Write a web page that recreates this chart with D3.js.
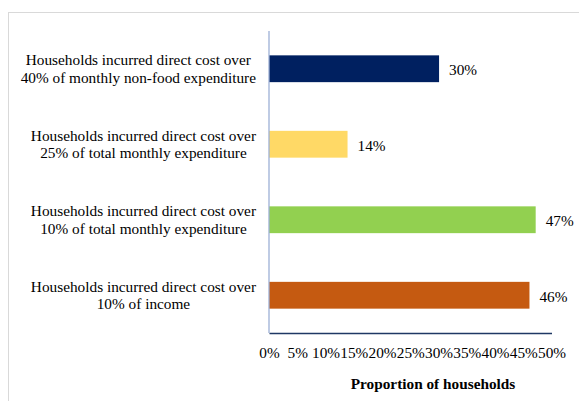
<!DOCTYPE html>
<html>
<head>
<meta charset="utf-8">
<script src="https://cdn.jsdelivr.net/npm/d3@7"></script>
<style>
  body { margin: 0; background: #fff; }
  text { font-family: "Liberation Serif", "Times New Roman", serif; fill: #000; }
</style>
</head>
<body>
<div id="chart"></div>
<script>
// data
const categories = [
    ["Households incurred direct cost over", "40% of monthly non-food expenditure"],
    ["Households incurred direct cost over", "25% of total monthly expenditure"],
    ["Households incurred direct cost over", "10% of total monthly expenditure"],
    ["Households incurred direct cost over", "10% of income"]
];
const values = [30.1, 13.9, 47.2, 46.1];
const barColors = ["#002060", "#FFD966", "#92D050", "#C55A11"];
const xTicks = [0, 5, 10, 15, 20, 25, 30, 35, 40, 45, 50];
const xTitle = "Proportion of households";

const W = 579, H = 401;
const fs = "15.3px";
const margin = { left: 269, right: 27, top: 31, bottom: 68 };
const width = 551.5 - margin.left;
const height = 333 - margin.top;

const svg = d3.select("#chart").append("svg")
    .attr("width", W)
    .attr("height", H);

// outer frame
svg.append("rect")
    .attr("x", 8.5).attr("y", 12.5)
    .attr("width", W + 10).attr("height", H + 10)
    .attr("fill", "none")
    .attr("stroke", "#d9d9d9");

const g = svg.append("g")
    .attr("transform", `translate(${margin.left},${margin.top})`);

// Scales
const x = d3.scaleLinear().domain([0, 50]).range([0, width]);
const y = d3.scaleBand().domain(d3.range(categories.length)).range([0, height]).paddingInner(0.645).paddingOuter(0.3225);

// Bars
g.selectAll("rect.bar").data(values).enter()
    .append("rect")
    .attr("class", "bar")
    .attr("x", 0)
    .attr("y", (d, i) => y(i))
    .attr("width", d => x(d))
    .attr("height", y.bandwidth())
    .attr("fill", (d, i) => barColors[i]);

// Data labels
g.selectAll("text.val").data(values).enter()
    .append("text")
    .attr("class", "val")
    .attr("x", d => x(d) + 10)
    .attr("y", (d, i) => y(i) + y.bandwidth() / 2 + 1)
    .attr("dy", "0.35em")
    .attr("font-size", fs)
    .text(d => Math.round(d) + "%");

// X Axis
const xAxis = g.append("g")
    .attr("transform", `translate(0,${height})`)
    .call(d3.axisBottom(x).tickValues(xTicks).tickFormat(d => d + "%").tickSize(0).tickPadding(14));
xAxis.select(".domain").attr("stroke", "#1F3864").attr("stroke-width", 1.3);
xAxis.selectAll("text")
    .attr("font-size", fs)
    .attr("font-family", "Liberation Serif, Times New Roman, serif")
    .attr("fill", "#000");

// Y Axis line
g.append("line")
    .attr("x1", 0).attr("x2", 0)
    .attr("y1", 0).attr("y2", height)
    .attr("stroke", "#9DB0D6")
    .attr("stroke-width", 1.3);

// Category labels, each block right aligned and lines centered in block
const rightEdge = 256 - margin.left;
categories.forEach((lines, i) => {
    const t = g.append("text")
        .attr("font-size", fs)
        .attr("text-anchor", "middle");
    const spans = lines.map(l => t.append("tspan").text(l));
    const maxW = d3.max(spans, s => s.node().getComputedTextLength());
    const cx = rightEdge - maxW / 2;
    const cy = y(i) + y.bandwidth() / 2;
    const lh = 17.6;
    spans.forEach((s, k) => {
        s.attr("x", cx)
         .attr("y", cy + (k - (lines.length - 1) / 2) * lh)
         .attr("dy", "0.35em");
    });
});

// Axis title
svg.append("text")
    .attr("x", 433)
    .attr("y", 389)
    .attr("text-anchor", "middle")
    .attr("font-size", fs)
    .attr("font-weight", "bold")
    .text(xTitle);
</script>
</body>
</html>
